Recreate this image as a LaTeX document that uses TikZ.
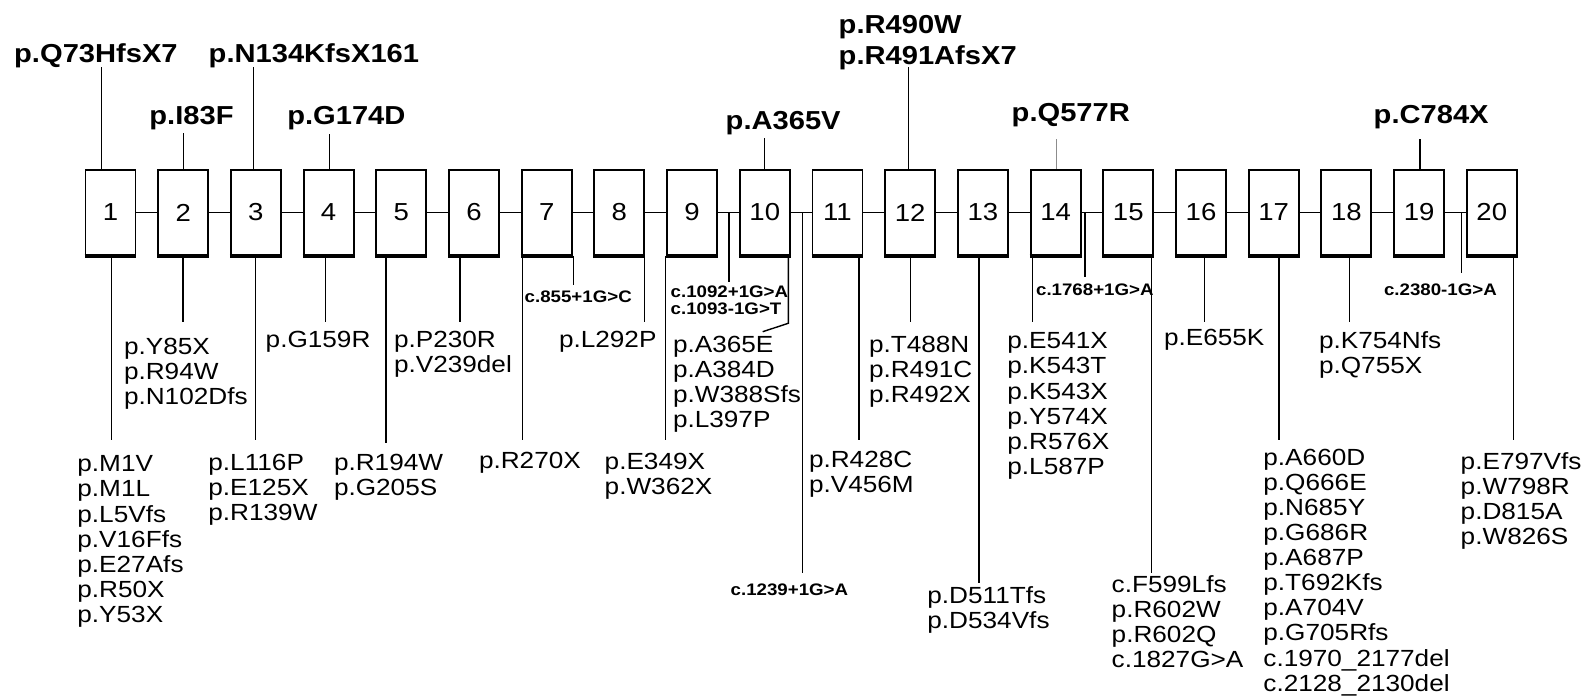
\documentclass[tikz,border=0pt]{standalone}
\usepackage{fontspec}
\setmainfont{Liberation Sans}[FakeStretch=1.12]

\begin{document}
\begin{tikzpicture}[x=0.02cm, y=-0.02cm, line width=0.8pt,
	exon/.style={draw, line width=1.1pt, minimum width=1cm, minimum height=1.7cm, inner sep=0pt, font={\fontsize{14}{16}\selectfont}},
	mut/.style={anchor=north west, align=left, inner sep=0pt, font={\fontsize{13.3}{14.3}\selectfont}},
	hot/.style={anchor=base west, align=left, inner sep=0pt, font={\bfseries\fontsize{14.8}{17.6}\selectfont}},
	splice/.style={anchor=base west, align=left, inner sep=0pt, font={\bfseries\fontsize{9.5}{9.7}\selectfont}}]
	\useasboundingbox (0,0) rectangle (1585,696);
	\foreach \i in {1,...,20} {
		\node[exon] (e\i) at ({110.5+72.7*(\i-1)},212.5) {\i};
		\draw[line width=2pt] (e\i.south west) -- (e\i.south east);
	}
	\foreach \i in {1,...,19} {
		\pgfmathtruncatemacro{\j}{\i+1}
		\draw (e\i) -- (e\j);
	}
	\node[hot] (t1) at (13.5,62.8) {p.Q73HfsX7};
	\node[hot] (t2) at (148.7,125) {p.I83F};
	\node[hot] (t3) at (208,62.8) {p.N134KfsX161};
	\node[hot] (t4) at (286.6,125) {p.G174D};
	\node[hot] (t10) at (725,130) {p.A365V};
	\node[hot, anchor=north west] (t12) at (838,15) {p.R490W\\p.R491AfsX7};
	\node[hot] (t14) at (1011,121) {p.Q577R};
	\node[hot] (t19) at (1373,124) {p.C784X};
	\coordinate (u1) at (101.4,67);
	\coordinate (u2) at (183.5,133);
	\coordinate (u3) at (253.5,67);
	\coordinate (u4) at (329.6,134);
	\coordinate (u10) at (764.3,138);
	\coordinate (u12) at (908.3,66.7);
	\coordinate (u14) at (1056.7,138.5);
	\coordinate (u19) at (1419.8,138.5);
	\draw (e1.north -| u1) -- (u1); \draw (e2.north -| u2) -- (u2); \draw (e3.north -| u3) -- (u3); \draw (e4.north -| u4) -- (u4);
	\draw (e10.north -| u10) -- (u10); \draw (e12.north -| u12) -- (u12); \draw[black!45] (e14.north -| u14) -- (u14); \draw (e19.north -| u19) -- (u19);
	\node[mut] (b1) at (76.7,455) {p.M1V\\p.M1L\\p.L5Vfs\\p.V16Ffs\\p.E27Afs\\p.R50X\\p.Y53X};
	\node[mut] (b2) at (123.3,337.3) {p.Y85X\\p.R94W\\p.N102Dfs};
	\node[mut] (b3) at (207.7,453.3) {p.L116P\\p.E125X\\p.R139W};
	\node[mut] (b4) at (265,330.6) {p.G159R};
	\node[mut] (b5) at (333.3,453.3) {p.R194W\\p.G205S};
	\node[mut] (b6) at (393.3,330.6) {p.P230R\\p.V239del};
	\node[mut] (b7) at (478.3,451.6) {p.R270X};
	\node[mut] (b8) at (558.3,330) {p.L292P};
	\node[mut] (b9) at (604,452.6) {p.E349X\\p.W362X};
	\node[mut] (b10) at (672.3,335) {p.A365E\\p.A384D\\p.W388Sfs\\p.L397P};
	\node[mut] (b11) at (808.3,450.3) {p.R428C\\p.V456M};
	\node[mut] (b12) at (868.3,335) {p.T488N\\p.R491C\\p.R492X};
	\node[mut] (b13) at (926.7,586) {p.D511Tfs\\p.D534Vfs};
	\node[mut] (b14) at (1006.7,332) {p.E541X\\p.K543T\\p.K543X\\p.Y574X\\p.R576X\\p.L587P};
	\node[mut] (b15) at (1111,575) {c.F599Lfs\\p.R602W\\p.R602Q\\c.1827G>A};
	\node[mut] (b16) at (1163.3,328.3) {p.E655K};
	\node[mut] (b17) at (1262.7,448) {p.A660D\\p.Q666E\\p.N685Y\\p.G686R\\p.A687P\\p.T692Kfs\\p.A704V\\p.G705Rfs\\c.1970\_2177del\\c.2128\_2130del};
	\node[mut] (b18) at (1318.3,330.6) {p.K754Nfs\\p.Q755X};
	\node[mut] (b20) at (1460,451.6) {p.E797Vfs\\p.W798R\\p.D815A\\p.W826S};
	\coordinate (d1) at (111.7,440);
	\coordinate (d2) at (183,321.7);
	\coordinate (d3) at (255.7,440);
	\coordinate (d4) at (325.7,321.7);
	\coordinate (d5) at (386,443.3);
	\coordinate (d6) at (460,321.7);
	\coordinate (d7) at (522.7,440);
	\coordinate (d8) at (644.3,321.7);
	\coordinate (d9) at (665.7,440);
	\coordinate (k10) at (788.3,323.3);
	\coordinate (d10) at (762.7,331.7);
	\coordinate (d11) at (859,440);
	\coordinate (d12) at (910.7,321.7);
	\coordinate (d13) at (979,582.7);
	\coordinate (d14) at (1032.3,321.7);
	\coordinate (d15) at (1151.7,572.7);
	\coordinate (d16) at (1204.3,321.7);
	\coordinate (d17) at (1279,440);
	\coordinate (d18) at (1349.3,321.7);
	\coordinate (d20) at (1513.3,440);
	\draw (e1.south -| d1) -- (d1); \draw (e2.south -| d2) -- (d2); \draw (e3.south -| d3) -- (d3); \draw (e4.south -| d4) -- (d4);
	\draw (e5.south -| d5) -- (d5); \draw (e6.south -| d6) -- (d6); \draw (e7.south -| d7) -- (d7); \draw (e8.south -| d8) -- (d8);
	\draw (e9.south -| d9) -- (d9); \draw (e10.south -| k10) -- (k10) -- (d10); \draw (e11.south -| d11) -- (d11); \draw (e12.south -| d12) -- (d12);
	\draw (e13.south -| d13) -- (d13); \draw (e14.south -| d14) -- (d14); \draw (e15.south -| d15) -- (d15); \draw (e16.south -| d16) -- (d16);
	\draw (e17.south -| d17) -- (d17); \draw (e18.south -| d18) -- (d18); \draw (e20.south -| d20) -- (d20);
	\node[splice] (c7) at (524,302.7) {c.855+1G>C};
	\node[splice, anchor=north west] (c9) at (670,285) {c.1092+1G>A\\c.1093-1G>T};
	\node[splice] (c10) at (730,595) {c.1239+1G>A};
	\node[splice] (c14) at (1035.4,295) {c.1768+1G>A};
	\node[splice] (c19) at (1383.3,295) {c.2380-1G>A};
	\coordinate (s7) at (573.3,285);
	\coordinate (s9) at (729,281.7);
	\coordinate (s10) at (802.7,572.7);
	\coordinate (s14) at (1085,276.7);
	\coordinate (s19) at (1461.7,273.3);
	\draw (e7.south -| s7) -- (s7); \draw (e9.east -| s9) -- (s9); \draw (e10.east -| s10) -- (s10);
	\draw (e14.east -| s14) -- (s14); \draw (e19.east -| s19) -- (s19);
\end{tikzpicture}
\end{document}
